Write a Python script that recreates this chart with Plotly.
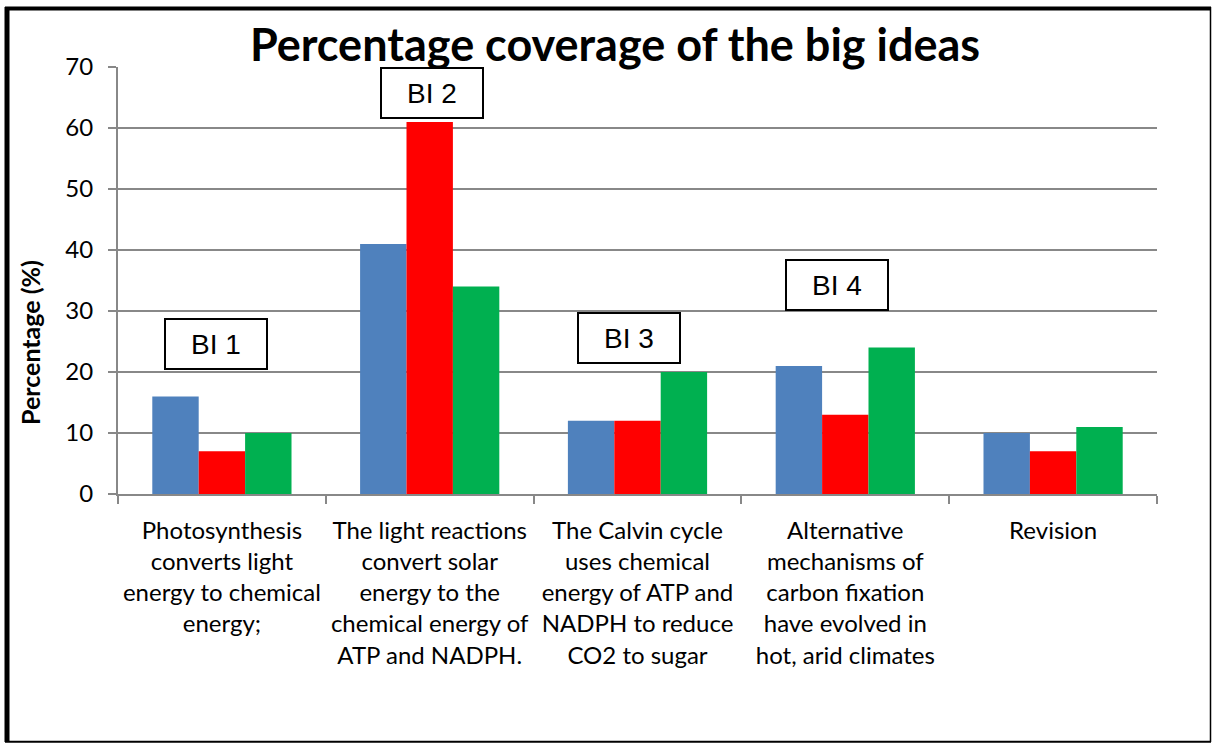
import plotly.graph_objects as go

categories = [
    "Photosynthesis<br>converts light<br>energy to chemical<br>energy;",
    "The light reactions<br>convert solar<br>energy to the<br>chemical energy of<br>ATP and NADPH.",
    "The Calvin cycle<br>uses chemical<br>energy of ATP and<br>NADPH to reduce<br>CO2 to sugar",
    "Alternative<br>mechanisms of<br>carbon fixation<br>have evolved in<br>hot, arid climates",
    "Revision",
]
series_blue = [16, 41, 12, 21, 10]
series_red = [7, 61, 12, 13, 7]
series_green = [10, 34, 20, 24, 11]

bi_labels = ["BI 1", "BI 2", "BI 3", "BI 4"]
bi_x = [-0.03, 1.01, 1.96, 2.96]
bi_y = [24.6, 65.7, 25.6, 34.3]

W, H = 1213, 744
L, R, T, B = 118, 56, 67, 250
pw, ph = W - L - R, H - T - B

fig = go.Figure()
for vals, col in [(series_blue, "#4F81BD"), (series_red, "#FF0000"), (series_green, "#00B050")]:
    fig.add_trace(go.Bar(x=categories, y=vals, marker=dict(color=col, line=dict(width=0))))

for lab, x, y in zip(bi_labels, bi_x, bi_y):
    fig.add_annotation(x=x, y=y, xref="x", yref="y", text=lab, showarrow=False,
                       font=dict(family="Liberation Sans, Arial", size=28, color="black"),
                       bordercolor="black", borderwidth=2, borderpad=0,
                       bgcolor="white", width=100, height=48)

def px2x(px):
    return (px - L) / pw

def py2y(py):
    return (H - B - py) / ph

# Y-axis title (placed like the original, below the vertical centre)
fig.add_annotation(x=px2x(30), y=py2y(343), xref="paper", yref="paper",
                   text="<b>Percentage (%)</b>", textangle=-90, showarrow=False,
                   xanchor="center", yanchor="middle",
                   font=dict(family="Lato, Open Sans, sans-serif", size=25, color="black"))

# Outer border
fig.add_shape(type="line", xref="paper", yref="paper", x0=px2x(5), x1=px2x(1211), y0=py2y(8.5), y1=py2y(8.5), line=dict(color="black", width=4))
fig.add_shape(type="line", xref="paper", yref="paper", x0=px2x(7), x1=px2x(7), y0=py2y(7), y1=py2y(742), line=dict(color="black", width=5))
fig.add_shape(type="line", xref="paper", yref="paper", x0=px2x(1210.5), x1=px2x(1210.5), y0=py2y(7), y1=py2y(742), line=dict(color="black", width=1.5))
fig.add_shape(type="line", xref="paper", yref="paper", x0=px2x(5), x1=px2x(1211), y0=py2y(741.7), y1=py2y(741.7), line=dict(color="black", width=2))

fig.update_layout(
    width=W, height=H,
    margin=dict(l=L, r=R, t=T, b=B, autoexpand=False),
    paper_bgcolor="white", plot_bgcolor="white",
    showlegend=False,
    barmode="group", bargap=0.33, bargroupgap=0,
    font=dict(family="Lato, Open Sans, sans-serif", color="black"),
    title=dict(text="<b>Percentage coverage of the big ideas</b>", x=615 / W, xanchor="center",
               y=1 - 45 / H, yanchor="middle",
               font=dict(family="Lato, Open Sans, sans-serif", size=45, color="black")),
    xaxis=dict(showgrid=False, showline=True, linecolor="#888888", linewidth=2,
               ticks="outside", tickson="boundaries", ticklen=8, tickcolor="#888888", tickwidth=2,
               ticklabelstandoff=14, tickangle=0, automargin=False,
               tickfont=dict(size=24, color="black"), fixedrange=True),
    yaxis=dict(range=[0, 70], dtick=10, showgrid=True, gridcolor="#888888", gridwidth=1.5,
               showline=True, linecolor="#888888", linewidth=2, zeroline=False,
               ticks="outside", ticklen=8, tickcolor="#888888", tickwidth=2,
               ticklabelstandoff=10, automargin=False,
               tickfont=dict(size=24, color="black")),
)

fig.write_html("out.html", config={"displayModeBar": False},
               post_script="document.body.style.margin='0';")
